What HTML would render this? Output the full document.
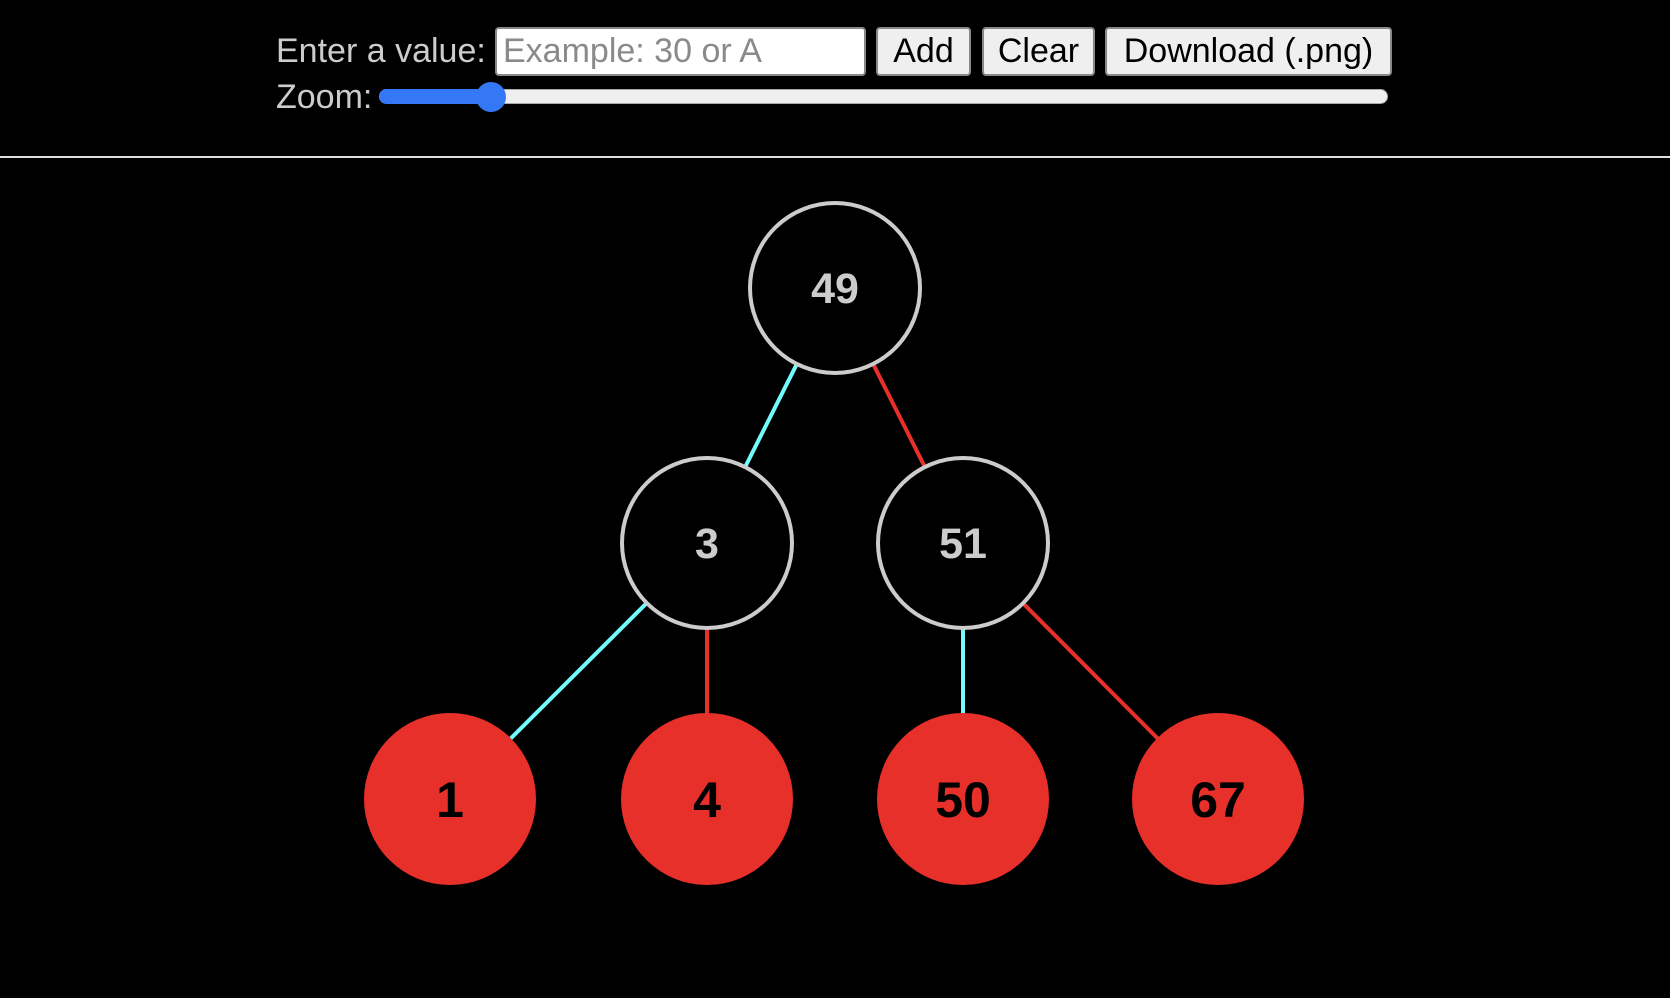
<!DOCTYPE html>
<html><head><style>
html,body{margin:0;padding:0;background:#000;width:1670px;height:998px;overflow:hidden;font-family:"Liberation Sans",sans-serif}
.t{position:absolute;color:#ccc;font-size:34px;line-height:1}
.box{position:absolute;box-sizing:border-box;border:2px solid #888;border-radius:4px;font-size:34px;line-height:45px;}
.btn{background:#efefef;color:#000;text-align:center}
</style></head><body>
<div class="t" style="left:276px;top:34px">Enter a value:</div>
<div class="box" style="left:495px;top:27px;width:371px;height:49px;background:#fff;color:#8a8a8a;padding-left:6px">Example: 30 or A</div>
<div class="box btn" style="left:876px;top:27px;width:95px;height:49px">Add</div>
<div class="box btn" style="left:982px;top:27px;width:113px;height:49px">Clear</div>
<div class="box btn" style="left:1105px;top:27px;width:287px;height:49px">Download (.png)</div>
<div class="t" style="left:276px;top:80px">Zoom:</div>
<div style="position:absolute;left:379px;top:89px;width:1009px;height:15px;background:#efefef;border:1px solid #aaa;border-radius:8px;box-sizing:border-box"></div>
<div style="position:absolute;left:379px;top:89px;width:115px;height:15px;background:#3478f6;border-radius:8px"></div>
<div style="position:absolute;left:476px;top:82px;width:30px;height:30px;background:#3478f6;border-radius:50%"></div>
<div style="position:absolute;left:0;top:156px;width:1670px;height:2px;background:#ddd"></div>
<svg width="1670" height="998" style="position:absolute;left:0;top:0" font-family="Liberation Sans, sans-serif" font-weight="bold" font-size="43" text-anchor="middle">
<g stroke-width="4">
<line x1="835" y1="288" x2="707" y2="543" stroke="#73fbfd"/>
<line x1="835" y1="288" x2="963" y2="543" stroke="#e8302a"/>
<line x1="707" y1="543" x2="450" y2="799" stroke="#73fbfd"/>
<line x1="707" y1="543" x2="707" y2="799" stroke="#e8302a"/>
<line x1="963" y1="543" x2="963" y2="799" stroke="#73fbfd"/>
<line x1="963" y1="543" x2="1218" y2="799" stroke="#e8302a"/>
</g>
<g fill="#000" stroke="#ccc" stroke-width="4">
<circle cx="835" cy="288" r="85"/><circle cx="707" cy="543" r="85"/><circle cx="963" cy="543" r="85"/>
</g>
<g fill="#e8302a">
<circle cx="450" cy="799" r="86"/><circle cx="707" cy="799" r="86"/><circle cx="963" cy="799" r="86"/><circle cx="1218" cy="799" r="86"/>
</g>
<g fill="#ccc"><text x="835" y="303">49</text><text x="707" y="558">3</text><text x="963" y="558">51</text></g>
<g fill="#000" font-size="50"><text x="450" y="817">1</text><text x="707" y="817">4</text><text x="963" y="817">50</text><text x="1218" y="817">67</text></g>
</svg>
</body></html>
